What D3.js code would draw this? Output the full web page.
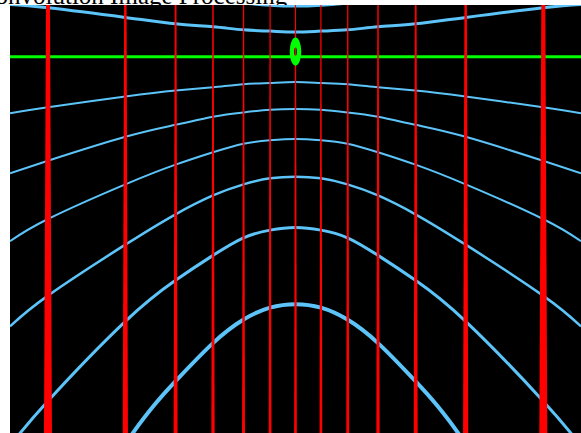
<!DOCTYPE html>
<html><head><meta charset="utf-8">
<script src="https://cdn.jsdelivr.net/npm/d3@7"></script>
<style>html,body{margin:0;padding:0;background:#fff;overflow:hidden}</style>
</head><body>
<svg id="chart" width="581" height="433"></svg>
<script>
// ---- data (offset in m, time in ms) ----
const title = "Convolution Image Processing";
const offsets = [-1000, -867, -596, -420, -289, -182, -89, 0, 89, 182, 289, 420, 596, 867, 1000];
const curveB = [-60, -50, -35, -22, -12, -4, 1, 3, 1, -4, -12, -22, -35, -50, -60];
const curveA = [-1, 6.5, 29, 44, 51, 58, 61, 63, 61, 58, 51, 44, 29, 6.5, -1];
const curveC = [253, 239, 214, 200, 192, 185, 182, 180, 182, 185, 192, 200, 214, 239, 253];
const curveD = [393, 364, 308, 280, 261, 251, 245, 243, 245, 251, 261, 280, 308, 364, 393];
const curveE = [552, 500, 419, 373, 344, 324, 316, 313, 316, 324, 344, 373, 419, 500, 552];
const curveF = [751, 679, 560, 489, 445, 419, 405, 401, 405, 419, 445, 489, 560, 679, 751];
const curveG = [1030, 925, 739, 643, 585, 544, 526, 520, 526, 544, 585, 643, 739, 925, 1030];
const curveH = [1448, 1305, 1025, 879, 790, 735, 707, 699, 707, 735, 790, 879, 1025, 1305, 1448];
const greenLine = [121, 121, 121, 121, 121, 121, 121, 121, 121, 121, 121, 121, 121, 121, 121];
const traceOffsets = [-867, -596, -420, -289, -182, -89, 0, 89, 183, 289, 421, 596, 868];
const source = {offset: 0, time: 109};

// ---- drawing ----
const svg = d3.select("#chart");
const x = d3.scaleLinear().domain([-1000, 1000]).range([10, 581]);
const y = d3.scaleLinear().domain([0, 1000]).range([5, 433]);

svg.append("text")
  .attr("x", 133).attr("y", 3.5)
  .attr("text-anchor", "middle")
  .style("font-family", "'Liberation Serif', serif")
  .style("font-size", "25px")
  .attr("fill", "#000")
  .text(title);

svg.append("defs").append("clipPath").attr("id", "clip")
  .append("rect").attr("x", 10).attr("y", 5).attr("width", 571).attr("height", 440);

svg.append("rect").attr("x", 10).attr("y", 5).attr("width", 571).attr("height", 440).attr("fill", "#000");

const g = svg.append("g").attr("clip-path", "url(#clip)");

const line = d3.line().x((d, i) => x(offsets[i])).y(d => y(d)).curve(d3.curveNatural);

const blue = "#5cc4f8";
const curves = [
  {d: curveB, w: 2.5}, {d: curveA, w: 3}, {d: curveC, w: 2}, {d: curveD, w: 2},
  {d: curveE, w: 2}, {d: curveF, w: 2.5}, {d: curveG, w: 3}, {d: curveH, w: 4}
];
g.selectAll("path.iso").data(curves).join("path")
  .attr("class", "iso")
  .attr("d", c => line(c.d))
  .attr("fill", "none").attr("stroke", blue).attr("stroke-width", c => c.w);

g.append("path").attr("d", line(greenLine))
  .attr("fill", "none").attr("stroke", "#00ff00").attr("stroke-width", 3);

// red traces: width grows with time and with |offset|
const topW = o => { const p = Math.abs(x(o) - x(0)); return 1.1 + 4.7e-5 * p * p; };
const botW = o => { const p = Math.abs(x(o) - x(0)); return 2.7 + 8.6e-5 * p * p; };
const t0 = 0, t1 = 1000;
g.selectAll("path.trace").data(traceOffsets).join("path")
  .attr("class", "trace")
  .attr("d", o => {
    const cx = x(o), a = topW(o) / 2, b = botW(o) / 2;
    return `M${cx - a},${y(t0)}L${cx + a},${y(t0)}L${cx + b},${y(t1)}L${cx - b},${y(t1)}Z`;
  })
  .attr("fill", "#ff0000");

// source marker (ring)
const sx = x(source.offset), sy = y(source.time);
const ro = [5.8, 14], ri = [1.3, 4.2];
const ell = (rx, ry) => `M${sx - rx},${sy}A${rx},${ry} 0 1,0 ${sx + rx},${sy}A${rx},${ry} 0 1,0 ${sx - rx},${sy}Z`;
g.append("path").attr("d", ell(ro[0], ro[1]) + ell(ri[0], ri[1]))
  .attr("fill-rule", "evenodd").attr("fill", "#00ff00");
</script>
</body></html>
